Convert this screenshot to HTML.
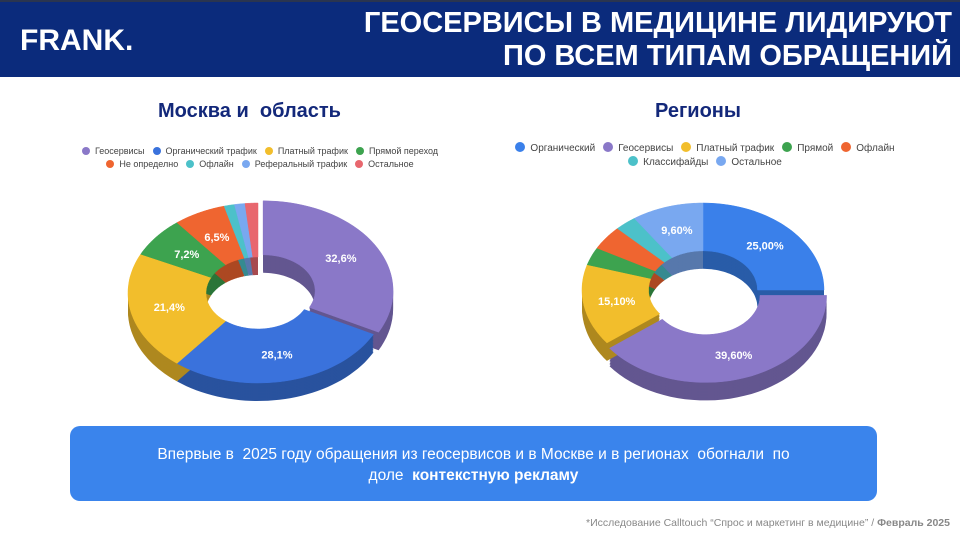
<!DOCTYPE html>
<html><head><meta charset="utf-8">
<style>
*{margin:0;padding:0;box-sizing:border-box}
body{width:960px;height:542px;overflow:hidden;background:#fff;font-family:"Liberation Sans","DejaVu Sans",sans-serif;position:relative}
.hdr{position:absolute;left:0;top:0;width:960px;height:77px;background:#0b2b7c;border-top:2px solid #2a3550}
.logo{position:absolute;left:20px;top:22px;color:#fff;font-weight:bold;font-size:30px;letter-spacing:0px}
.ttl{position:absolute;right:8px;top:5px;color:#fff;font-weight:bold;font-size:29px;text-align:right;line-height:33px}
.h2{position:absolute;color:#13287a;font-size:20px;font-weight:bold;}
.leg{position:absolute;font-size:9px;color:#444;text-align:center;line-height:13px}
.leg span{display:inline-block;margin:0 4px}
.leg i{display:inline-block;width:8px;height:8px;border-radius:50%;margin-right:5px;vertical-align:-1px}
.leg2{font-size:10px;line-height:14px}
.leg2 i{width:10px;height:10px}
.box{position:absolute;left:70px;top:426px;width:807px;height:75px;background:#3a84ec;border-radius:10px;color:#fff;font-size:15.5px;text-align:center;padding-top:18px;line-height:21px}
.foot{position:absolute;right:10px;top:517px;font-size:10.5px;color:#888}
svg{position:absolute;left:0;top:0}
</style></head><body>
<div class="hdr"><div class="logo">FRANK.</div><div class="ttl">ГЕОСЕРВИСЫ В МЕДИЦИНЕ ЛИДИРУЮТ<br>ПО ВСЕМ ТИПАМ ОБРАЩЕНИЙ</div></div>
<div class="h2" style="left:158px;top:100px">Москва и&nbsp; область</div>
<div class="h2" style="left:655px;top:100px">Регионы</div>
<div class="leg" style="left:60px;top:145px;width:400px">
<span><i style="background:#8a78c8"></i>Геосервисы</span><span><i style="background:#3a72dc"></i>Органический трафик</span><span><i style="background:#f2be2c"></i>Платный трафик</span><span><i style="background:#3da34f"></i>Прямой переход</span><br>
<span><i style="background:#ef6530"></i>Не определно</span><span><i style="background:#4cc1c9"></i>Офлайн</span><span><i style="background:#79a8f0"></i>Реферальный трафик</span><span><i style="background:#e8676e"></i>Остальное</span></div>
<div class="leg leg2" style="left:480px;top:142px;width:450px">
<span><i style="background:#3a80ea"></i>Органический</span><span><i style="background:#8a78c8"></i>Геосервисы</span><span><i style="background:#f2be2c"></i>Платный трафик</span><span><i style="background:#3da34f"></i>Прямой</span><span><i style="background:#ef6530"></i>Офлайн</span><br>
<span><i style="background:#4cc1c9"></i>Классифайды</span><span><i style="background:#79a8f0"></i>Остальное</span></div>
<svg id="s" width="960" height="542"></svg>
<div class="box">Впервые в&nbsp; 2025 году обращения из геосервисов и в Москве и в регионах&nbsp; обогнали&nbsp; по<br>доле&nbsp; <b>контекстную рекламу</b></div>
<div class="foot">*Исследование Calltouch “Спрос и маркетинг в медицине” / <b>Февраль 2025</b></div>
<script>
function shade(c,f){var n=parseInt(c.slice(1),16);var r=(n>>16)*f|0,g=(n>>8&255)*f|0,b=(n&255)*f|0;return 'rgb('+r+','+g+','+b+')';}
var S=document.getElementById('s'),out='';
function donut(cx,cy,rx,ry,k,d,sl){
 var tot=0;sl.forEach(function(s){tot+=s[0]});
 var a=0,parts=[];
 sl.forEach(function(s){var a0=a/tot*2*Math.PI,a1=(a+s[0])/tot*2*Math.PI;a+=s[0];
  var m=(a0+a1)/2,ex=s[2]||0,ox=ex*Math.sin(m),oy=-ex*Math.cos(m)*ry/rx;
  var p='',N=40,i,t;
  for(i=0;i<=N;i++){t=a0+(a1-a0)*i/N;p+=(i?'L':'M')+(cx+ox+rx*Math.sin(t)).toFixed(1)+' '+(cy+oy-ry*Math.cos(t)).toFixed(1);}
  for(i=N;i>=0;i--){t=a0+(a1-a0)*i/N;p+='L'+(cx+ox+k*rx*Math.sin(t)).toFixed(1)+' '+(cy+oy-k*ry*Math.cos(t)).toFixed(1);}
  p+='Z';parts.push([p,s[1],s[3],cx+ox+(1+k)/2*rx*Math.sin(m),cy+oy-(1+k)/2*ry*Math.cos(m)]);});
 parts.forEach(function(q){for(var j=d;j>0;j-=1.5)out+='<path d="'+q[0]+'" fill="'+shade(q[1],0.72)+'" transform="translate(0,'+j+')"/>';});
 parts.forEach(function(q){out+='<path d="'+q[0]+'" fill="'+q[1]+'" stroke="'+q[1]+'" stroke-width="0.5"/>';});
 parts.forEach(function(q){if(q[2])out+='<text x="'+q[3].toFixed(1)+'" y="'+(q[4]+4).toFixed(1)+'" fill="#fff" font-size="11" font-weight="bold" text-anchor="middle" font-family="Liberation Sans,sans-serif">'+q[2]+'</text>';});
}
donut(258,293,130,90,0.4,18,[[32.6,'#8a78c8',6,'32,6%'],[28.1,'#3a72dc',0,'28,1%'],[21.4,'#f2be2c',0,'21,4%'],[7.2,'#3da34f',0,'7,2%'],[6.5,'#ef6530',0,'6,5%'],[1.3,'#4cc1c9',0],[1.3,'#79a8f0',0],[1.6,'#e8676e',0]]);
donut(703,290,121,87,0.45,18,[[25,'#3a80ea',0,'25,00%'],[39.6,'#8a78c8',8,'39,60%'],[15.1,'#f2be2c',0,'15,10%'],[3.3,'#3da34f',0],[4.5,'#ef6530',0],[2.9,'#4cc1c9',0],[9.6,'#79a8f0',0,'9,60%']]);
S.innerHTML=out;
</script>
</body></html>
